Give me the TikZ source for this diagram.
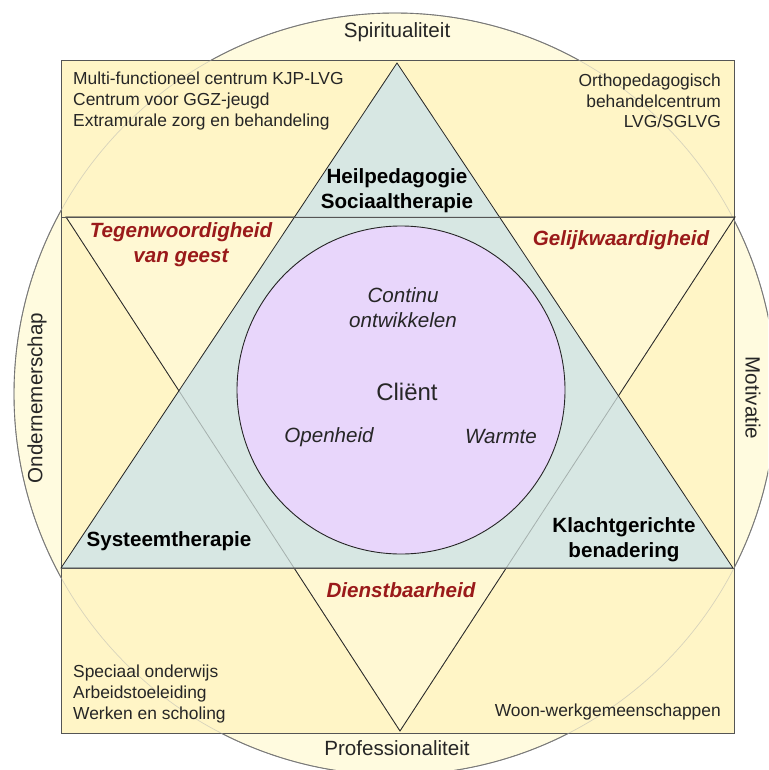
\documentclass[tikz,border=0pt]{standalone}
\usepackage{fontspec}
\setmainfont{Liberation Sans}
\usetikzlibrary{positioning, calc}

\definecolor{cream}{HTML}{FFFBDF}
\definecolor{squareyellow}{HTML}{FFF5C6}
\definecolor{downyellow}{HTML}{FFF8D3}
\definecolor{upteal}{HTML}{D7E7E3}
\definecolor{clientpurple}{HTML}{E8D6FB}
\definecolor{valuered}{HTML}{9A1A1A}
\definecolor{edgegray}{HTML}{555555}

\begin{document}
\begin{tikzpicture}[
        x=1pt, y=-1pt,
        line join=miter,
        listtext/.style={font=\fontsize{17.4}{20.6}\selectfont, text=black!85, inner sep=0pt},
        aspect/.style={font=\fontsize{20.6}{24}\selectfont, text=black!85, inner sep=0pt},
        method/.style={font=\fontsize{20.6}{25}\selectfont\bfseries, align=center, inner sep=0pt},
        value/.style={font=\fontsize{20.6}{25}\selectfont\bfseries\itshape, text=valuered, align=center, inner sep=0pt},
        core/.style={font=\fontsize{20.6}{25}\selectfont\itshape, text=black!85, align=center, inner sep=0pt},
    ]
    \useasboundingbox (0,0) rectangle (768,770);
    \clip (0,0) rectangle (768,770);

        % Outer circle and square
        \coordinate (M) at (395,394);
        \fill[cream] (M) circle (381);
        \draw[black!70, line width=0.9pt] (M) circle (381);
        \draw[edgegray, fill=squareyellow, line width=0.9pt] (61,60) rectangle (734,733);
        \draw[black!30, opacity=0.5, line width=0.7pt] (M) circle (381);

        % Corners of the two triangles
        \coordinate (D-1) at (66,217);
        \coordinate (D-2) at (735,217);
        \coordinate (D-3) at (400,731);
        \coordinate (U-1) at (61,568);
        \coordinate (U-2) at (733,568);
        \coordinate (U-3) at (397,63);

        % Draw the triangles
        \draw[fill=downyellow, draw=black!85, line width=0.8pt] (D-1) -- (D-2) -- (D-3) -- cycle;
        \draw[fill=upteal, draw=black!85, line width=0.8pt] (U-1) -- (U-2) -- (U-3) -- cycle;
        \draw[black!80, opacity=0.3, line width=0.8pt] (D-1) -- (D-2) -- (D-3) -- cycle;
        \draw[edgegray, line width=0.9pt] (61,217) -- (734,217);
        \draw[edgegray, line width=0.9pt] (61,568) -- (734,568);

        % Client circle
        \draw[fill=clientpurple, draw=black!85, line width=0.9pt] (401,390) circle (164);

        % Aspects around the square
        \node[aspect] (spirit) at (397,32) {Spiritualiteit};
        \node[aspect] (prof) at (397,748) {Professionaliteit};
        \node[aspect, rotate=90] (onder) at (37,398) {Ondernemerschap};
        \node[aspect, rotate=-90] (motiv) at (753,398) {Motivatie};

        % Lists in the corners
        \node[listtext, anchor=west, align=left] (tl) at (73,101)
            {Multi-functioneel centrum KJP-LVG\\Centrum voor GGZ-jeugd\\Extramurale zorg en behandeling};
        \node[listtext, anchor=east, align=right] (tr) at (721,101)
            {Orthopedagogisch\\behandelcentrum\\LVG/SGLVG};
        \node[listtext, anchor=west, align=left] (bl) at (73,694)
            {Speciaal onderwijs\\Arbeidstoeleiding\\Werken en scholing};
        \node[listtext, anchor=east] (br) at (721,712) {Woon-werkgemeenschappen};

        % Methods in the corners of the upward triangle
        \node[method] (heil) at (397,191) {Heilpedagogie\\Sociaaltherapie};
        \node[method] (syst) at (169,541) {Systeemtherapie};
        \node[method] (klacht) at (624,540) {Klachtgerichte\\benadering};

        % Values in the corners of the downward triangle
        \node[value] (tegen) at (181,245) {Tegenwoordigheid\\van geest};
        \node[value] (gelijk) at (621,240) {Gelijkwaardigheid};
        \node[value] (dienst) at (401,590) {Dienstbaarheid};

        % Texts in the client circle
        \node[core] (cont) at (403,308) {Continu\\ontwikkelen};
        \node[aspect, font=\fontsize{24}{28}\selectfont] (client) at (407,392) {Cliënt};
        \node[core] (open) at (329,437) {Openheid};
        \node[core] (warm) at (501,437) {Warmte};
    \end{tikzpicture}
\end{document}
